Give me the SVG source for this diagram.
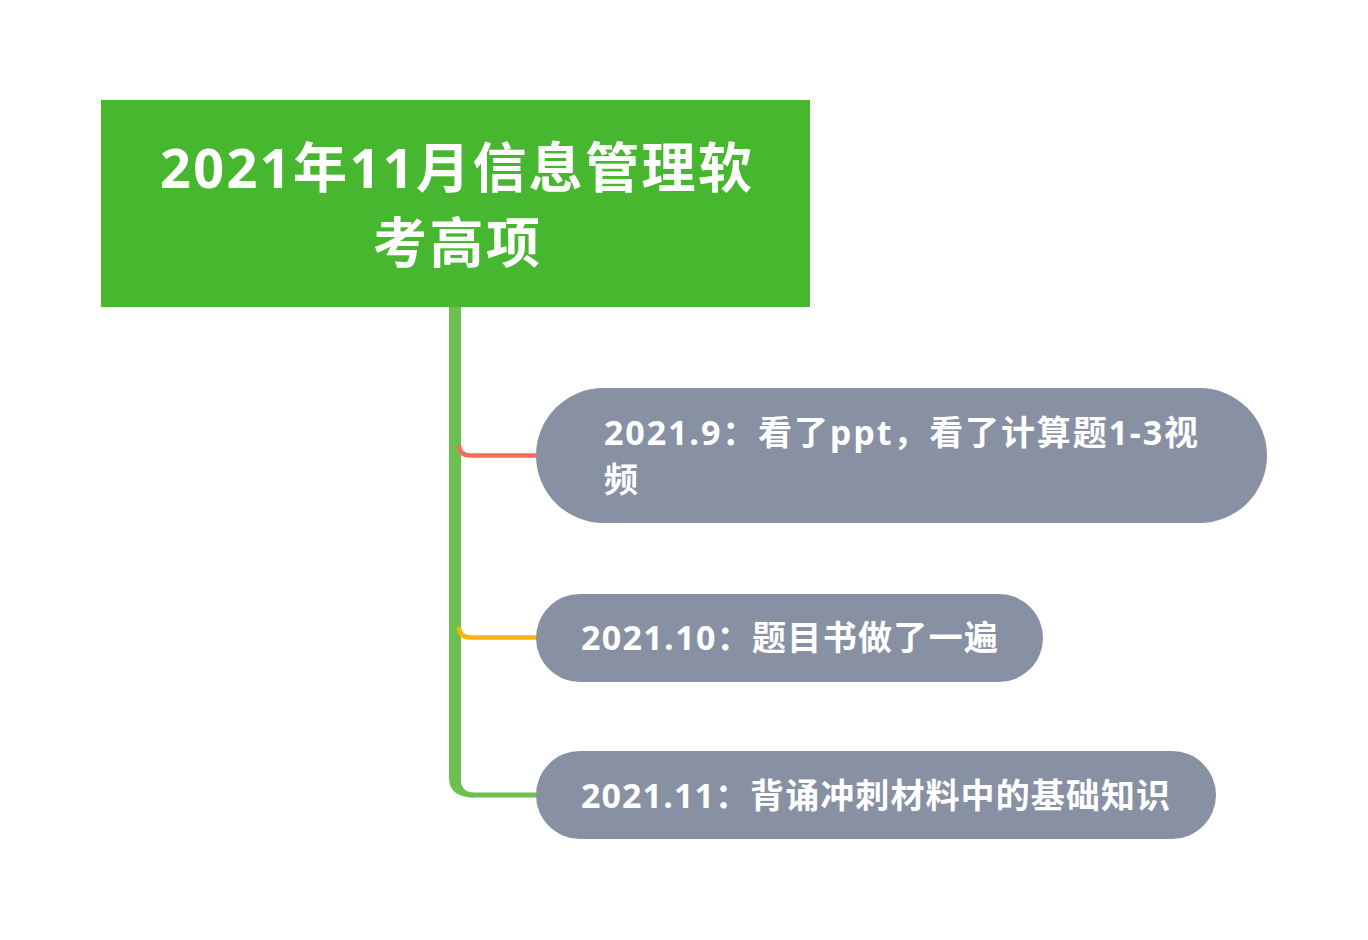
<svg xmlns="http://www.w3.org/2000/svg" width="1368" height="940" viewBox="0 0 1368 940">
<style>
.t{font-family:"Open Sans","Noto Sans CJK SC",sans-serif;font-weight:bold;fill:#ffffff}
.root{font-size:54px}
.sub{font-size:34px}
.node{fill:#8891a3}
.br{fill:none;stroke-width:4.5}
</style>
<rect width="1368" height="940" fill="#ffffff"/>
<g id="connectors">
<path d="M455,307 V780" stroke="#6cc04f" stroke-width="12" fill="none"/>
<path d="M459,445 Q459,455.5 471,455.5 H537" class="br" stroke="#f76b5b"/>
<path d="M459,627 Q459,637.5 471,637.5 H537" class="br" stroke="#ffb20e"/>
<path d="M455,775 Q455,795 475,795 H537" fill="none" stroke="#6cc04f" stroke-width="5"/>
<path d="M449,775 L461,775 L461,782 Q463,793 475,793 L475,797.5 Q449,797.5 449,778 Z" fill="#6cc04f"/>
</g>
<g id="root">
<rect x="101" y="100" width="709" height="207" fill="#46b72f"/>
<text class="t root" x="160" y="188" textLength="592" lengthAdjust="spacing">2021年11月信息管理软</text>
<text class="t root" x="373" y="263" textLength="167" lengthAdjust="spacing">考高项</text>
</g>
<g id="node1">
<rect class="node" x="536" y="388" width="731" height="135" rx="67.5"/>
<text class="t sub" x="604" y="445" textLength="594" lengthAdjust="spacing">2021.9：看了ppt，看了计算题1-3视</text>
<text class="t sub" x="604" y="492">频</text>
</g>
<g id="node2">
<rect class="node" x="536" y="594" width="507" height="88" rx="44"/>
<text class="t sub" x="581" y="650" textLength="417" lengthAdjust="spacing">2021.10：题目书做了一遍</text>
</g>
<g id="node3">
<rect class="node" x="536" y="751" width="680" height="88" rx="44"/>
<text class="t sub" x="581" y="808" textLength="589" lengthAdjust="spacing">2021.11：背诵冲刺材料中的基础知识</text>
</g>
</svg>
